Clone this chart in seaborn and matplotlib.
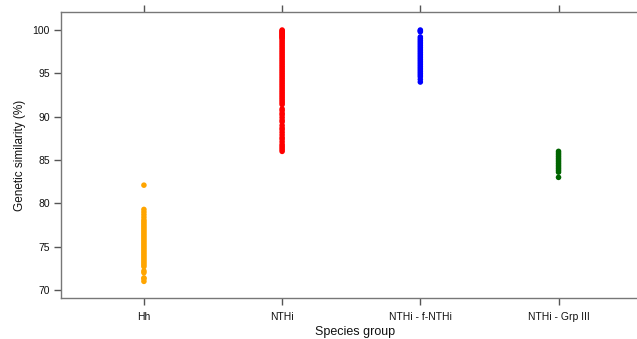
import matplotlib
matplotlib.use("Agg")
import matplotlib.pyplot as plt
import seaborn as sns
import pandas as pd

categories = ["Hh", "NTHi", "NTHi - f-NTHi", "NTHi - Grp III"]
colors = ["#FFA500", "#FF0000", "#0000FF", "#006400"]

hh_values = [82.1, 79.3, 79.0, 78.7, 78.4, 78.1, 77.9, 77.7, 77.5, 77.3, 77.1, 76.9,
             76.7, 76.5, 76.3, 76.1, 75.9, 75.7, 75.5, 75.3, 75.1, 74.9, 74.7, 74.5,
             74.3, 74.1, 73.9, 73.7, 73.5, 73.3, 73.1, 72.9, 72.7, 72.2, 72.0, 71.4,
             71.3, 71.0]
nthi_values = [100.0, 99.9, 99.8, 99.7, 99.6, 99.5, 99.4, 99.3, 99.2, 99.1, 99.0,
               98.8, 98.6, 98.4, 98.2, 98.0, 97.8, 97.6, 97.4, 97.2, 97.0, 96.8,
               96.6, 96.4, 96.2, 96.0, 95.8, 95.6, 95.4, 95.2, 95.0, 94.8, 94.6,
               94.4, 94.2, 94.0, 93.8, 93.6, 93.4, 93.2, 93.0, 92.8, 92.6, 92.4,
               92.2, 92.0, 91.8, 91.6, 91.4, 90.9, 90.7, 90.4, 90.2, 89.9, 89.6,
               89.4, 89.0, 88.7, 88.5, 88.2, 87.9, 87.6, 87.4, 87.1, 86.8, 86.6,
               86.4, 86.2, 86.0]
fnthi_values = [100.0, 99.9, 99.8, 99.2, 99.0, 98.8, 98.6, 98.4, 98.2, 98.0, 97.8,
                97.6, 97.4, 97.2, 97.0, 96.8, 96.6, 96.4, 96.2, 96.0, 95.8, 95.6,
                95.4, 95.2, 95.0, 94.8, 94.6, 94.3, 94.0]
grp3_values = [86.0, 85.8, 85.6, 85.4, 85.2, 85.0, 84.8, 84.6, 84.4, 84.2, 84.0,
               83.8, 83.6, 83.0]

yticks = [70, 75, 80, 85, 90, 95, 100]

all_vals = [hh_values, nthi_values, fnthi_values, grp3_values]
df = pd.DataFrame({
    "group": [c for c, v in zip(categories, all_vals) for _ in v],
    "sim": [x for v in all_vals for x in v],
})

sns.set_theme(style="white")
plt.rcParams["font.family"] = ["Liberation Sans", "DejaVu Sans"]

fig = plt.figure(figsize=(6.37, 3.39), dpi=100)
ax = fig.add_axes([61/637, 41/339, 1.0 - 61/637 + 0.02, 286/339])

sns.stripplot(data=df, x="group", y="sim", hue="group", order=categories,
              hue_order=categories, palette=colors, jitter=False, size=4.0,
              linewidth=0, legend=False, ax=ax)

ax.set_xlim(-0.6, 3.66)
ax.set_ylim(69.08, 102.08)
ax.set_yticks(yticks)
ax.set_yticklabels([str(t) for t in yticks])
ax.set_xlabel("Species group", fontsize=9, color="#111111", labelpad=3)
ax.set_ylabel("Genetic similarity (%)", fontsize=8.5, color="#111111", labelpad=5)

for s in ax.spines.values():
    s.set_color("#777777")
    s.set_linewidth(1.0)
ax.tick_params(axis="both", direction="out", length=5, width=1, color="#555555",
               labelsize=7.5, labelcolor="#111111")
ax.tick_params(axis="x", top=True, bottom=True, pad=5)
ax.tick_params(axis="y", left=True, right=False, pad=3)

fig.savefig("out.png", dpi=100)
